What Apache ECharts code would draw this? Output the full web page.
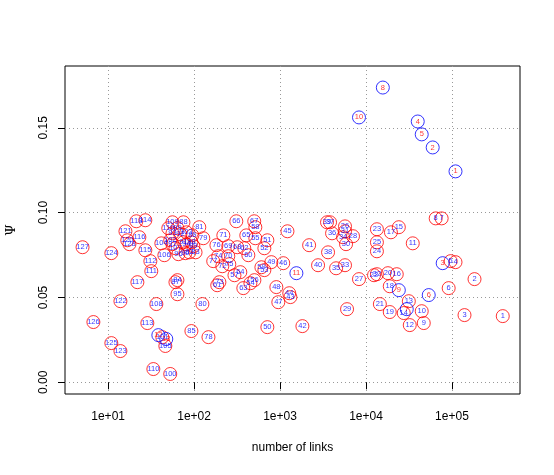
<!DOCTYPE html>
<html>
<head>
<meta charset="utf-8">
<script src="https://cdn.jsdelivr.net/npm/echarts@6/dist/echarts.min.js"></script>
<style>
  html, body { margin: 0; padding: 0; background: #fff; }
  #chart { width: 554px; height: 475px; }
</style>
</head>
<body>
<div id="chart"></div>
<script>
// red circles, blue ids
const redIds = [1,2,3,4,5,6,7,8,9,10,11,12,13,14,15,16,17,18,19,20,21,22,23,24,25,26,27,28,29,30,
  31,32,33,34,35,36,37,38,39,40,41,42,43,44,45,46,47,48,49,50,51,52,53,54,55,56,57,58,59,60,
  61,62,63,64,65,66,67,68,69,70,71,72,73,74,75,76,77,78,79,80,81,82,83,84,85,86,87,88,89,90,
  91,92,93,94,95,96,97,98,99,100,101,102,103,104,105,106,107,108,109,110,111,112,113,114,115,
  116,117,118,119,120,121,122,123,124,125,126,127,128];
const redLinks = [3.9e5,1.83e5,1.40e5,1.10e5,9.66e4,9.16e4,7.59e4,6.47e4,4.70e4,4.45e4,
  3.50e4,3.23e4,3.15e4,2.75e4,2.41e4,2.28e4,1.95e4,1.89e4,1.89e4,1.80e4,
  1.45e4,1.24e4,1.34e4,1.34e4,1.34e4,5.70e3,8.29e3,7.06e3,6.02e3,5.86e3,
  5.70e3,1.34e4,5.70e3,5.41e3,4.49e3,4.03e3,3.82e3,3.62e3,3.52e3,2.77e3,
  2.18e3,1.82e3,1.32e3,1.28e3,1.22e3,1.09e3,955,906,792,712,
  712,657,657,452,516,503,295,516,607,428,
  186,384,374,345,405,310,501,318,250,250,
  219,213,197,191,257,182,167,147,128,125,
  115,88.2,104,64.0,93.1,95.5,60.7,75.2,98.1,79.2,
  75.2,69.3,56.0,81.5,64.0,65.7,56.0,93.1,64.0,52.8,
  42.7,52.8,81.5,41.6,46.3,45.1,60.7,36.4,56.0,33.6,
  31.8,31.0,28.6,27.1,27.1,23.1,21.9,21.3,50.1,16.7,
  15.9,13.9,13.9,10.9,10.9,6.74,5.04,17.7];
const redPsi = [0.0390,0.0608,0.0396,0.0708,0.0714,0.0555,0.0966,0.0966,0.0349,0.0419,
  0.0819,0.0337,0.0478,0.0408,0.0914,0.0637,0.0884,0.0566,0.0414,0.0643,
  0.0461,0.0631,0.0902,0.0772,0.0825,0.0919,0.0608,0.0861,0.0431,0.0814,
  0.0890,0.0637,0.0690,0.0855,0.0672,0.0878,0.0943,0.0766,0.0943,0.0690,
  0.0808,0.0331,0.0502,0.0525,0.0890,0.0702,0.0472,0.0561,0.0708,0.0325,
  0.0837,0.0790,0.0661,0.0584,0.0849,0.0602,0.0631,0.0914,0.0678,0.0749,
  0.0572,0.0790,0.0555,0.0649,0.0866,0.0949,0.0949,0.0796,0.0802,0.0743,
  0.0866,0.0684,0.0590,0.0743,0.0696,0.0808,0.0714,0.0266,0.0849,0.0461,
  0.0914,0.0766,0.0766,0.0602,0.0302,0.0866,0.0590,0.0943,0.0802,0.0761,
  0.0825,0.0872,0.0878,0.0814,0.0519,0.0755,0.0814,0.0825,0.0908,0.0049,
  0.0266,0.0837,0.0884,0.0819,0.0214,0.0749,0.0790,0.0461,0.0943,0.0078,
  0.0655,0.0714,0.0349,0.0955,0.0778,0.0855,0.0590,0.0949,0.0908,0.0837,
  0.0890,0.0478,0.0184,0.0761,0.0231,0.0355,0.0796,0.0814];

// blue circles, red ids
const blueIds = [1,2,3,4,5,6,7,8,9,10,11,12,13];
const blueLinks = [1.10e5,5.97e4,7.80e4,4.00e4,4.45e4,5.37e4,2.98e4,1.57e4,2.41e4,8.29e3,1.55e3,38.4,47.5];
const bluePsi = [0.1243,0.1384,0.0702,0.1537,0.1461,0.0514,0.0431,0.1737,0.0543,0.1561,0.0643,0.0278,0.0255];

const xTicks = [10, 100, 1000, 10000, 100000];
const yTicks = [0, 0.05, 0.10, 0.15];

const chart = echarts.init(document.getElementById('chart'), null, { renderer: 'canvas' });
const font = "'Liberation Sans', Arial, Helvetica, sans-serif";

const makeSeries = (xs, ys, ids, ring, text) => ({
    type: 'scatter',
    data: xs.map((x, i) => [x, ys[i], ids[i]]),
    symbol: 'circle',
    symbolSize: 13,
    silent: true,
    itemStyle: { color: 'transparent', borderColor: ring, borderWidth: 1 },
    label: {
        show: true,
        position: 'inside',
        formatter: p => String(p.value[2]),
        color: text,
        fontSize: 7.5,
        fontFamily: font
    },
    emphasis: { disabled: true }
})

const option = {
    animation: false,
    backgroundColor: '#fff',
    grid: {
        left: 65, top: 66, right: 34, bottom: 81,
        containLabel: false,
        outerBoundsMode: 'none',
        show: true, borderColor: '#000', borderWidth: 1
    },
    xAxis: {
        type: 'log',
        logBase: 10,
        min: 3.15,
        max: 6.19e5,
        name: 'number of links',
        nameLocation: 'middle',
        nameGap: 48,
        nameTextStyle: { color: '#000', fontSize: 12, fontFamily: font },
        axisLine: { show: false },
        axisTick: { show: true, length: 7, customValues: xTicks, lineStyle: { color: '#000' } },
        axisLabel: {
            customValues: xTicks,
            margin: 17,
            color: '#000',
            fontSize: 12,
            fontFamily: font,
            formatter: v => '1e+' + String(Math.round(Math.log10(v))).padStart(2, '0')
        },
        splitLine: { show: true, lineStyle: { color: '#999', type: [1, 3], width: 1 } }
    },
    yAxis: {
        type: 'value',
        min: -0.0069,
        max: 0.1864,
        name: 'Ψ',
        nameLocation: 'middle',
        nameGap: 47,
        nameRotate: 90,
        nameTextStyle: { color: '#000', fontSize: 13, fontFamily: "'DejaVu Serif', serif" },
        axisLine: { show: false },
        axisTick: { show: true, length: 7, customValues: yTicks, lineStyle: { color: '#000' } },
        axisLabel: {
            customValues: yTicks,
            rotate: 90,
            margin: 15,
            color: '#000',
            fontSize: 12,
            fontFamily: font,
            formatter: v => v.toFixed(2)
        },
        splitLine: { show: true, lineStyle: { color: '#999', type: [1, 3], width: 1 } }
    },
    series: [
        makeSeries(redLinks, redPsi, redIds, '#ff0000', '#0000ff'),
        makeSeries(blueLinks, bluePsi, blueIds, '#0000ff', '#ff0000')
    ]
};
chart.setOption(option);
</script>
</body>
</html>
